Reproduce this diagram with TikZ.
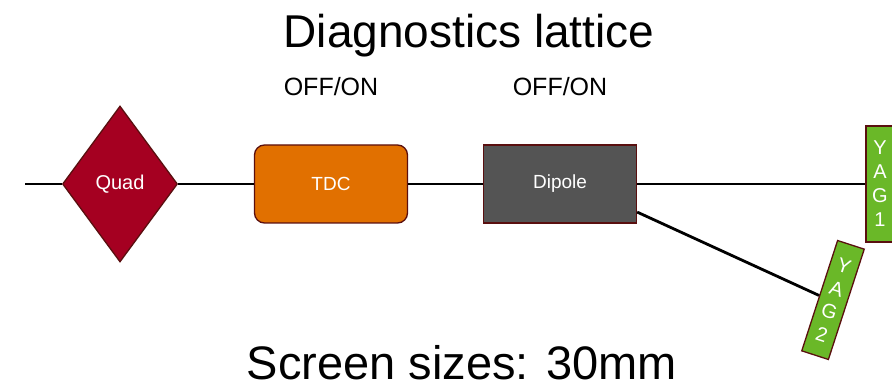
\documentclass[tikz,border=0pt]{standalone}
\usepackage{fontspec}
\setmainfont{Liberation Sans}
\usetikzlibrary{shapes.geometric}
\definecolor{quadred}{RGB}{165,0,33}
\definecolor{tdcorange}{RGB}{225,112,0}
\definecolor{dipolegray}{RGB}{84,84,84}
\definecolor{yaggreen}{RGB}{106,184,40}
\definecolor{rimbrown}{RGB}{90,15,15}
\begin{document}
\begin{tikzpicture}[x=1pt,y=-1pt,
        element/.style={draw=rimbrown,line width=1.3pt,text=white,inner sep=0pt},
        magnet/.style={element,minimum width=153pt,minimum height=78pt,font=\fontsize{19}{22}\selectfont},
        screen/.style={element,fill=yaggreen,minimum width=28pt,minimum height=116pt,align=center,font=\fontsize{20}{24}\selectfont},
        beam/.style={line width=2.8pt}
    ]
    \useasboundingbox (0,0) rectangle (892,387);

    \node [anchor=base,inner sep=0pt,font=\fontsize{46}{55}\selectfont] (title) at (469,48) {Diagnostics lattice};
    \node [anchor=base,inner sep=0pt,font=\fontsize{47}{56}\selectfont] (sizes) at (462,380) {Screen sizes: 30mm};

    \node [element,diamond,fill=quadred,minimum width=115pt,minimum height=156pt,font=\fontsize{20}{24}\selectfont] (quad) at (120,184) {Quad};
    \node [magnet,fill=tdcorange,rounded corners=10pt] (tdc) at (331,184) {TDC};
    \node [magnet,fill=dipolegray] (dipole) at (560,184) {Dipole};
    \node [screen] (yag1) at (880,184) {Y\\A\\G\\1};
    \node [screen,rotate=-18] (yag2) at (833,300) {Y\\A\\G\\2};

    \node [anchor=base,font=\fontsize{25}{30}\selectfont] (tdcmode) at (tdc |- 0,96) {OFF/ON};
    \node [anchor=base,font=\fontsize{25}{30}\selectfont] (dipolemode) at (dipole |- 0,96) {OFF/ON};

    \coordinate (entry) at (25,184);
    \draw [beam] (entry) -- (quad) -- (tdc) -- (dipole) -- (yag1);
    \draw [beam] (dipole.-20.6) -- (yag2.west);
\end{tikzpicture}
\end{document}
